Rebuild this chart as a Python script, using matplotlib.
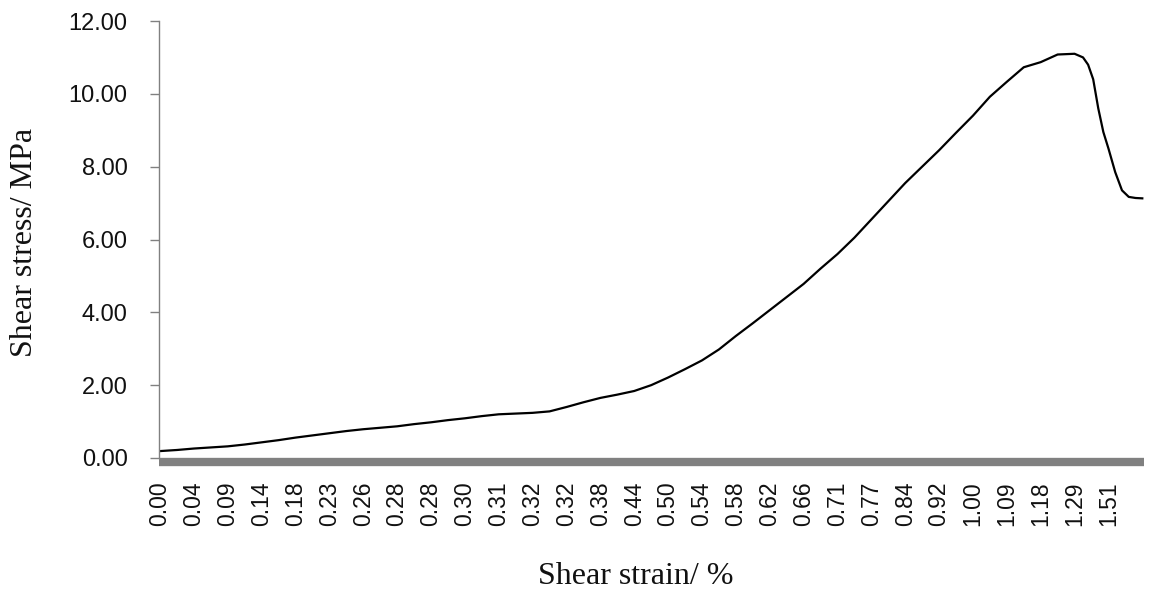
import matplotlib
matplotlib.use("Agg")
import matplotlib.pyplot as plt
import numpy as np

# Category axis tick labels (shear strain, %), one every 10 samples
strain_labels = ["0.00", "0.04", "0.09", "0.14", "0.18", "0.23", "0.26", "0.28",
                 "0.28", "0.30", "0.31", "0.32", "0.32", "0.38", "0.44", "0.50",
                 "0.54", "0.58", "0.62", "0.66", "0.71", "0.77", "0.84", "0.92",
                 "1.00", "1.09", "1.18", "1.29", "1.51"]
label_step = 10

# Sample positions (category index) and shear stress values (MPa)
sample_idx = [0, 5, 10, 15, 20, 25, 30, 35, 40, 45, 50, 55, 60, 65, 70, 75, 80,
              85, 90, 95, 100, 105, 110, 115, 120, 125, 130, 135, 140, 145, 150,
              155, 160, 165, 170, 175, 180, 185, 190, 195, 200, 205, 210, 215,
              220, 225, 230, 235, 240, 245, 250, 255, 260, 265,
              270, 272.5, 274, 275.5, 277, 278.5, 280, 282, 284, 286, 288, 290]
stress = [0.19, 0.22, 0.26, 0.29, 0.32, 0.37, 0.43, 0.49, 0.56, 0.62, 0.68,
          0.74, 0.79, 0.83, 0.87, 0.93, 0.98, 1.04, 1.09, 1.15, 1.20, 1.22,
          1.24, 1.28, 1.40, 1.53, 1.65, 1.74, 1.84, 2.00, 2.21, 2.44, 2.68,
          2.98, 3.35, 3.70, 4.06, 4.42, 4.78, 5.20, 5.60, 6.05, 6.55, 7.05,
          7.55, 8.00, 8.45, 8.93, 9.40, 9.92, 10.33, 10.73, 10.87, 11.08,
          11.10, 11.00, 10.80, 10.40, 9.60, 8.95, 8.50, 7.85, 7.35, 7.17,
          7.14, 7.13]

y_ticks = [0, 2, 4, 6, 8, 10, 12]

fig = plt.figure(figsize=(11.54, 5.92), dpi=100)
ax = fig.add_axes([159 / 1154, (592 - 458) / 592, 985 / 1154, 437 / 592])

# spines first (set_position resets tick settings)
for s in ["top", "right"]:
    ax.spines[s].set_visible(False)
ax.spines["left"].set_color("#808080")
ax.spines["left"].set_linewidth(1)
ax.spines["bottom"].set_color("#808080")
ax.spines["bottom"].set_linewidth(6)
ax.spines["bottom"].set_position(("outward", 3))
ax.spines["bottom"].set_capstyle("butt")

ax.plot(sample_idx, stress, color="black", linewidth=1.6)

ax.set_xlim(-0.3, 290.5)
ax.set_ylim(0, 12)

ax.set_yticks(y_ticks)
ax.set_yticklabels([f"{v:.2f}" for v in y_ticks], fontfamily="Liberation Sans",
                   fontsize=17, color="#111111")
ax.tick_params(axis="y", length=6.5, width=1, color="#808080", pad=16)

ax.set_xticks([i * label_step for i in range(len(strain_labels))])
ax.set_xticklabels(strain_labels, rotation=90, fontfamily="Liberation Sans",
                   fontsize=16.5, color="#111111")
ax.tick_params(axis="x", length=0, pad=14)

fig.text(636 / 1154, 1 - 577 / 592, "Shear strain/ %", fontfamily="Liberation Serif",
         fontsize=23, ha="center", va="center", color="#111111")
fig.text(25 / 1154, 1 - 242 / 592, "Shear stress/ MPa", fontfamily="Liberation Serif",
         fontsize=23, ha="center", va="center", rotation=90, color="#111111")

fig.savefig("out.png", dpi=100)
